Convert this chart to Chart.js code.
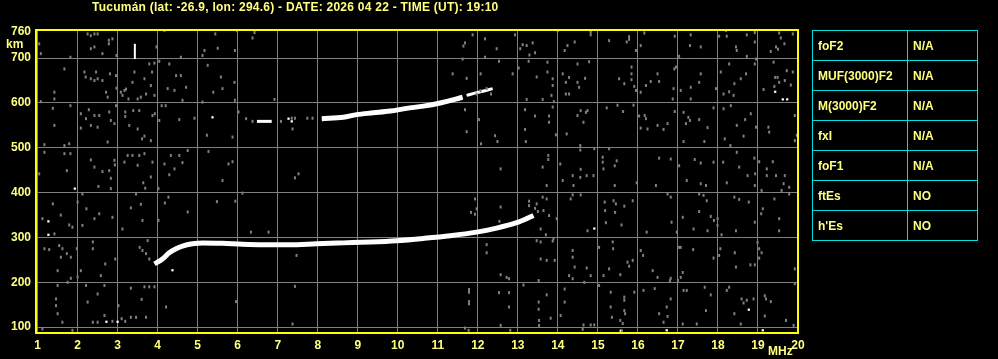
<!DOCTYPE html>
<html>
<head>
<meta charset="utf-8">
<script src="https://cdn.jsdelivr.net/npm/chart.js@4/dist/chart.umd.min.js"></script>
<style>
  body { margin: 0; background: #000; }
  #wrap { position: relative; width: 998px; height: 359px; background: #000; overflow: hidden; }
  #chart { position: absolute; left: 0; top: 0; }
  .txt { position: absolute; color: #ffff80; font: bold 12px "Liberation Sans", Arial, sans-serif; line-height: 14px; white-space: nowrap; }
  #title { letter-spacing: 0.25px; }
  #params { position: absolute; left: 812px; top: 30px; border-collapse: collapse; }
  #params td { border: 1px solid #00e0e0; height: 29px; padding: 0 0 0 5px; color: #ffff80;
    font: bold 12px "Liberation Sans", Arial, sans-serif; }
  #params td.l { width: 89px; }
  #params td.v { width: 64px; }
</style>
</head>
<body>
<div id="wrap">
  <canvas id="chart" width="998" height="359"></canvas>
  <div class="txt" id="title" style="left:92px; top:0px;"></div>
  <div class="txt" style="left:6px; top:37px;">km</div>
  <div class="txt" style="left:768px; top:344px;">MHz</div>
  <table id="params"></table>
</div>
<script>
const titleText = 'Tucumán (lat: -26.9, lon: 294.6) - DATE: 2026 04 22 - TIME (UT): 19:10';
const xTicks = [1,2,3,4,5,6,7,8,9,10,11,12,13,14,15,16,17,18,19,20];
const yTicks = [100,200,300,400,500,600,700,760];
const tableLabels = ['foF2','MUF(3000)F2','M(3000)F2','fxI','foF1','ftEs',"h'Es"];
const tableValues = ['N/A','N/A','N/A','N/A','N/A','NO','NO'];

// first hop F trace (MHz, km)
const lowerFreq = [3.92,4.12,4.29,4.46,4.62,4.87,5.12,5.62,6.12,6.62,7.29,7.97,8.64,9.31,9.97,10.64,11.31,11.97,12.47,12.97,13.22,13.39];
const lowerHeight = [241,252,266,275,281,286,288,287,285,284,284,286,288,290,293,298,304,312,321,333,342,349];
// second hop trace
const upperFreq = [8.1,8.64,8.97,9.39,9.81,10.22,10.64,11.06,11.47,11.62];
const upperHeight = [565,568,574,578,582,588,593,600,609,613];
const upperTailFreq = [11.72,11.97,12.2,12.37];
const upperTailHeight = [617,623,628,632];
const dashFreq = [6.48,6.85];
const dashHeight = [559,559];
const barFreq = [3.43,3.43];
const barHeight = [698,732];

const whiteDots = [[1.27,336],[1.27,306],[1.93,409],[2.72,112],[3.0,112],[4.37,227],[5.37,568],[7.35,559],[7.27,565],
  [14.91,320],[18.77,139],[19.43,625],[19.62,608],[19.73,608],[19.12,93],[16.72,93],[15.57,92]];

const noiseDots = [
  [1.04,732],[1.08,710],[1.82,702],[2.25,754],[2.33,750],[2.42,754],[2.5,754],[2.78,740],[2.78,732],[2.33,721],[2.42,725],[2.62,710],[2.87,743],[2.97,706],[3.97,725],[4.17,762],[4.58,702],[5.12,706],[5.17,717],[5.44,754],[5.5,722],[5.93,717],[5.98,762],[6.42,757],[6.37,745],
  [1.67,676],[2.17,669],[2.2,658],[2.46,669],[2.5,654],[2.42,650],[2.33,654],[2.62,650],[2.71,624],[2.75,613],[2.81,665],[2.96,661],[2.97,633],[3.08,624],[3.12,617],[3.17,628],[3.21,631],[3.27,609],[3.37,646],[3.42,669],[3.5,609],[3.58,613],[3.67,654],[3.71,620],[3.83,639],[3.86,669],[3.92,617],[3.79,687],[3.92,689],[4.04,693],[4.29,687],[4.25,632],[4.42,628],[4.46,661],[4.58,661],[4.71,635],[4.62,606],[5.12,602],[5.25,684],[5.58,658],[5.39,624],[5.62,632],[5.92,646],[5.93,606],[6.92,608],[1.42,624],[1.42,609],[1.08,603],
  [1.38,588],[1.42,550],[1.17,507],[1.67,505],[1.79,509],[1.82,594],[2.08,576],[2.28,585],[2.08,544],[2.21,565],[2.33,550],[2.5,546],[2.42,572],[2.54,572],[2.79,580],[2.83,561],[2.92,554],[2.96,594],[2.75,513],[3.19,580],[3.19,570],[3.29,550],[3.39,583],[3.5,542],[3.54,583],[3.61,520],[3.67,526],[3.87,572],[3.93,576],[3.83,516],[4.1,594],[4.2,594],[4.04,561],[4.54,563],[4.92,566],[5.23,528],[5.87,524],[6.02,580],[6.21,565],[6.37,559],[7.08,559],
  [1.04,442],[1.17,490],[1.67,487],[1.82,487],[1.73,449],[2.12,397],[2.33,473],[2.42,457],[2.62,447],[2.79,449],[2.92,472],[2.93,462],[2.83,432],[2.52,414],[2.83,409],[3.17,468],[3.25,483],[3.37,483],[3.5,461],[3.54,483],[3.67,487],[3.87,468],[3.83,435],[3.64,422],[3.69,410],[4.02,409],[4.17,464],[4.29,440],[4.42,453],[4.33,483],[4.54,483],[4.62,467],[4.75,494],[5.27,492],[5.62,427],[5.77,464],[5.87,469],
  [1.38,375],[1.12,342],[1.42,308],[1.58,350],[1.79,328],[1.87,323],[2.12,327],[2.0,379],[2.22,364],[2.42,342],[2.54,353],[2.87,345],[3.12,319],[3.33,366],[3.46,397],[3.58,374],[3.62,338],[4.02,338],[4.18,377],[4.27,390],[4.75,357],[5.48,380],[5.94,381],[6.12,399],[6.33,312],[6.77,312],
  [1.17,275],[1.29,273],[1.54,282],[1.62,275],[1.73,264],[1.83,256],[1.58,256],[1.98,275],[2.38,290],[2.38,275],[2.0,212],[2.08,226],[1.83,209],[1.5,226],[1.75,200],[2.69,241],[2.58,215],[2.94,252],[3.75,293],[3.62,271],[3.71,264],[3.79,252],[3.55,278],
  [1.5,193],[1.46,163],[1.46,148],[1.5,130],[1.62,111],[2.21,193],[2.25,156],[2.5,174],[2.67,193],[3.02,148],[3.33,187],[3.6,162],[3.67,190],[3.79,190],[3.92,190],[4.21,145],[3.33,122],[3.46,122],[3.71,122],[2.38,111],[2.5,111],[2.67,126],[3.1,119],[3.19,113],[2.87,113],[5.96,157],[1.12,96],[1.87,93],
  [11.87,752],[11.68,734],[11.64,727],[12.18,743],[12.47,721],[12.93,752],[13.06,721],[13.12,730],[13.22,728],[13.37,734],[13.29,707],[13.43,712],[11.62,698],[12.18,702],[12.53,693],[13.02,678],[13.27,693],[11.37,665],[12.07,665],[11.72,655],[12.87,665],[13.47,658],[13.22,608],[13.62,608],[11.68,585],[12.03,563],[11.72,536],[12.43,527],[12.49,514],[13.18,585],[13.43,571],[13.18,541],[13.2,514],[12.08,509],
  [11.97,620],[12.07,627],[12.22,632],[12.33,620],[7.35,566],[7.43,566],[7.74,566],[7.87,566],[7.37,542],
  [7.52,442],[7.43,433],[12.57,453],[13.62,457],
  [11.93,386],[11.97,364],[11.83,356],[11.93,352],[12.57,368],[12.54,336],[13.28,381],[13.28,371],[13.47,375],[13.62,390],[13.64,360],[13.57,319],[13.43,365],[13.5,358],
  [7.47,260],[7.43,191],[12.22,284],[12.22,266],[13.14,194],[12.57,217],[12.72,211],[12.78,208],[13.47,293],[13.57,290],[13.52,204],[13.57,252],
  [11.78,184],[11.78,178],[11.78,157],[11.78,152],[12.53,177],[12.78,177],[12.78,145],[12.57,104],[12.81,93],[13.52,156],[13.52,140],[13.53,115],[13.53,104],[7.37,107],[11.68,98],[11.77,93],
  [14.0,762],[14.82,758],[14.82,752],[15.78,748],[15.78,742],[15.72,736],[15.28,739],[14.42,736],[14.24,728],[14.17,717],[15.95,717],[16.07,728],[16.16,756],[16.92,749],[17.32,752],[17.3,728],[17.03,704],[17.57,725],[18.03,749],[18.22,749],[18.2,762],[18.45,725],[18.47,717],[18.72,752],[18.92,757],[18.92,736],[18.72,704],[19.53,756],[19.57,745],[19.87,754],[19.66,732],[19.45,725],[19.32,715],[19.5,720],
  [13.74,691],[13.74,669],[13.87,654],[13.87,639],[14.12,665],[14.2,646],[14.28,657],[14.49,687],[14.49,646],[14.53,635],[14.68,655],[14.78,692],[14.2,620],[14.28,620],[13.84,617],[13.9,603],[15.53,654],[15.66,643],[15.84,680],[15.84,665],[15.84,652],[15.95,628],[15.91,637],[16.07,624],[16.2,639],[16.32,648],[16.53,648],[16.49,665],[16.91,676],[16.95,680],[16.89,632],[16.87,609],[17.07,628],[17.32,635],[17.32,609],[17.57,665],[17.53,646],[17.95,632],[18.07,669],[18.14,620],[18.28,625],[18.39,617],[18.28,687],[18.57,654],[18.7,665],[18.41,643],[18.92,687],[18.95,698],[19.39,691],[19.43,657],[19.49,657],[19.53,646],[19.67,650],[19.72,672],[19.82,640],[19.87,669],[19.41,637],[19.14,630],
  [13.78,571],[13.78,557],[13.87,591],[13.95,529],[14.22,531],[14.49,572],[14.57,583],[14.7,579],[14.74,583],[14.64,557],[14.56,505],[14.56,495],[14.91,498],[15.22,589],[15.49,595],[15.63,581],[15.89,595],[16.03,571],[16.17,572],[16.2,565],[16.07,544],[16.24,542],[16.49,550],[16.64,541],[16.74,554],[16.92,581],[17.14,579],[17.26,568],[17.3,561],[17.2,554],[17.53,563],[17.74,545],[17.14,514],[17.66,514],[17.89,589],[18.14,587],[18.32,594],[18.47,550],[18.68,563],[18.82,576],[18.95,546],[18.17,520],[18.31,505],[18.64,526],[19.26,546],[19.28,535],[19.92,572],[19.92,516],[19.97,528],
  [13.76,483],[13.76,474],[14.06,464],[14.12,427],[14.37,438],[14.56,434],[14.72,438],[14.89,438],[14.57,452],[14.39,416],[13.72,416],[15.12,479],[15.12,468],[15.14,453],[15.28,498],[15.42,460],[15.47,471],[15.42,416],[15.97,422],[16.53,477],[16.45,416],[16.82,475],[17.03,460],[17.22,427],[17.42,474],[17.57,466],[17.7,416],[17.89,468],[17.57,420],[18.13,468],[18.22,422],[18.47,490],[18.53,457],[18.74,438],[18.91,477],[18.93,442],[19.03,469],[19.22,453],[19.22,438],[19.37,469],[19.45,438],[19.67,438],[19.64,420],[19.78,412],[19.59,405],[19.09,405],[18.92,416],[19.78,397],
  [13.72,386],[13.78,349],[13.97,342],[13.7,306],[13.89,297],[14.37,395],[14.57,395],[14.32,386],[14.74,315],[15.17,379],[15.18,360],[15.39,382],[15.45,375],[15.43,356],[15.2,333],[15.66,370],[15.87,382],[15.59,328],[16.22,312],[16.74,397],[16.82,390],[16.84,334],[16.97,312],[17.12,345],[17.39,319],[17.53,397],[17.64,394],[17.53,358],[17.72,382],[17.82,347],[17.99,342],[17.99,327],[17.9,338],[17.74,315],[18.09,306],[18.41,390],[18.53,385],[18.77,379],[18.45,315],[18.92,334],[19.12,364],[19.08,353],[19.53,342],[19.53,315],[19.41,386],
  [13.87,292],[13.72,249],[13.92,249],[14.37,271],[14.37,256],[14.42,234],[14.28,215],[14.37,208],[14.72,232],[14.82,215],[14.66,200],[15.03,278],[15.37,290],[15.38,275],[15.14,215],[15.28,230],[15.74,245],[15.87,249],[15.78,236],[15.56,217],[16.07,271],[16.13,260],[16.37,226],[16.49,211],[16.82,209],[16.8,204],[17.03,278],[17.07,278],[17.38,273],[17.07,211],[17.12,222],[17.0,204],[17.89,254],[18.03,260],[18.06,275],[18.42,266],[18.45,234],[18.81,239],[18.92,239],[19.03,254],[19.03,275],[19.09,266],[18.99,289],[19.92,230],[19.92,197],
  [13.72,172],[14.17,185],[14.17,156],[13.82,120],[14.07,126],[14.64,105],[14.82,105],[14.91,105],[15.03,193],[15.32,178],[15.32,145],[15.66,167],[15.66,160],[15.35,122],[15.66,137],[15.68,130],[15.56,115],[15.62,108],[15.91,178],[16.14,182],[16.42,186],[16.53,130],[16.72,145],[16.64,111],[16.74,124],[16.82,163],[17.14,182],[17.22,182],[17.12,107],[17.47,107],[17.67,189],[17.82,172],[17.7,137],[18.22,182],[18.28,189],[18.59,163],[18.64,154],[18.72,160],[18.89,163],[18.57,107],[18.41,130],[19.17,170],[19.2,163],[19.32,157],[19.17,125],[19.7,115],[19.89,104],[14.62,95],[15.6,92]
];

const textYellow = '#ffff80';
const frameYellow = '#ffff00';
const gridGray = '#808080';
const tickFont = { family: 'Liberation Sans', weight: 'bold', size: 12 };

document.getElementById('title').textContent = titleText;
const tbl = document.getElementById('params');
tableLabels.forEach((lab, i) => {
  const tr = document.createElement('tr');
  tr.innerHTML = '<td class="l"></td><td class="v"></td>';
  tr.children[0].textContent = lab;
  tr.children[1].textContent = tableValues[i];
  tbl.appendChild(tr);
});

const pairs = (xs, ys) => xs.map((x, i) => ({ x: x, y: ys[i] }));
const toPts = arr => arr.map(p => ({ x: p[0], y: p[1] }));

const framePlugin = {
  id: 'frame',
  afterDraw(chart) {
    const a = chart.chartArea, c = chart.ctx;
    c.save();
    c.strokeStyle = frameYellow;
    c.lineWidth = 2;
    c.strokeRect(a.left, a.top + 1, a.right - a.left, a.bottom - a.top - 1);
    c.restore();
  }
};

const traceLine = (data, w) => ({
  type: 'line', data: data, showLine: true, borderColor: '#ffffff', borderWidth: w,
  pointRadius: 0, cubicInterpolationMode: 'monotone', borderCapStyle: 'butt', fill: false
});

new Chart(document.getElementById('chart').getContext('2d'), {
  type: 'scatter',
  data: {
    datasets: [
      { data: toPts(noiseDots), pointStyle: 'line', rotation: 90, pointRadius: 1.5,
        borderColor: '#808080', pointBorderWidth: 2, backgroundColor: '#808080' },
      traceLine(pairs(lowerFreq, lowerHeight), 5),
      traceLine(pairs(upperFreq, upperHeight), 5),
      traceLine(pairs(upperTailFreq, upperTailHeight), 3),
      traceLine(pairs(dashFreq, dashHeight), 3),
      traceLine(pairs(barFreq, barHeight), 2),
      { data: toPts(whiteDots), pointStyle: 'rect', pointRadius: 1.6, pointBorderWidth: 0,
        backgroundColor: '#ffffff', borderColor: '#ffffff' }
    ]
  },
  options: {
    responsive: false,
    animation: false,
    devicePixelRatio: 1,
    layout: { padding: { top: 29, right: 200, left: 0, bottom: 0 } },
    plugins: { legend: { display: false }, tooltip: { enabled: false } },
    scales: {
      x: {
        type: 'linear', min: 0.96, max: 20,
        afterBuildTicks: s => { s.ticks = xTicks.map(v => ({ value: v })); },
        afterFit: s => { s.height = 26; },
        grid: { color: gridGray, lineWidth: 1, drawTicks: false },
        border: { display: false },
        ticks: { color: textYellow, font: tickFont, padding: 5, autoSkip: false, maxRotation: 0 }
      },
      y: {
        type: 'linear', min: 87, max: 765,
        afterBuildTicks: s => { s.ticks = yTicks.map(v => ({ value: v })); },
        afterFit: s => { s.width = 36; },
        grid: { color: c => (c.tick && c.tick.value === 760) ? 'rgba(0,0,0,0)' : gridGray, lineWidth: 1, drawTicks: false },
        border: { display: false },
        ticks: { color: textYellow, font: tickFont, padding: 5, autoSkip: false }
      }
    }
  },
  plugins: [framePlugin]
});
</script>
</body>
</html>
